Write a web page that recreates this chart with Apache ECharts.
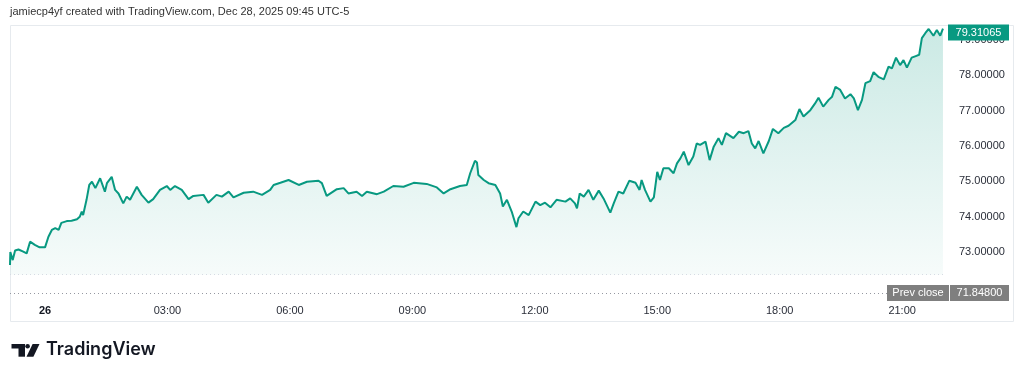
<!DOCTYPE html>
<html><head><meta charset="utf-8">
<script src="https://cdn.jsdelivr.net/npm/echarts@6/dist/echarts.min.js"></script>
<style>html,body{margin:0;padding:0;background:#fff;}#c{width:1024px;height:379px;}</style>
</head><body><div id="c"></div>
<script>
// minutes from 00:00 Dec 26 (UTC-5)
const minutes = [-51.5,-51,-49,-47.5,-44,-39,-32,-27,-22,-15,-8,0,5,10,15,20,24,32,39,47,51,54,56,61,65,69,74,81,88,91,98,103,108,115,120,125,135,142,152,159,169,179,184,191,201,211,218,233,240,252,260,270,277,292,306,319,331,336,346,358,373,385,402,407,414,429,439,446,458,466,473,488,498,512,527,542,561,576,586,596,610,620,625,632,635,637,645,652,662,669,673,679,686,693,696,703,711,721,728,735,743,752,765,772,779,782,786,792,799,806,814,821,831,836,843,850,859,868,874,877,882,890,895,900,904,909,917,924,929,934,939,946,953,958,963,971,977,983,990,995,1001,1012,1020,1027,1034,1039,1044,1049,1056,1064,1070,1078,1086,1093,1103,1109,1115,1125,1132,1137,1144,1152,1157,1162,1169,1176,1184,1189,1195,1201,1206,1213,1218,1225,1233,1240,1245,1251,1257,1262,1267,1274,1282,1285,1289,1294,1299,1306,1311,1316,1320];
const prices = [72.64,73.01,73.02,72.78,73.05,73.08,73.02,72.97,73.30,73.21,73.14,73.14,73.44,73.63,73.68,73.63,73.83,73.88,73.89,73.93,74.00,74.15,74.05,74.48,74.90,74.99,74.81,75.09,74.71,74.95,75.13,74.76,74.66,74.38,74.57,74.48,74.85,74.62,74.40,74.50,74.76,74.87,74.76,74.87,74.76,74.50,74.59,74.62,74.40,74.62,74.57,74.71,74.55,74.68,74.71,74.62,74.76,74.90,74.96,75.04,74.90,74.99,75.02,74.95,74.59,74.78,74.81,74.66,74.71,74.59,74.71,74.64,74.71,74.87,74.85,74.96,74.93,74.83,74.66,74.78,74.87,74.90,75.23,75.58,75.53,75.18,75.04,74.95,74.90,74.66,74.29,74.48,74.15,73.71,73.96,74.15,74.05,74.43,74.33,74.40,74.27,74.48,74.43,74.52,74.38,74.24,74.66,74.57,74.76,74.48,74.74,74.52,74.12,74.38,74.71,74.66,75.02,74.96,74.76,75.04,74.76,74.43,74.55,75.27,75.04,75.37,75.37,75.23,75.51,75.65,75.84,75.46,75.70,76.07,76.03,76.12,75.60,75.98,76.22,76.03,76.36,76.22,76.40,76.36,76.42,76.07,75.93,76.14,75.79,76.14,76.48,76.36,76.51,76.57,76.73,77.04,76.83,77.01,77.20,77.36,77.11,77.30,77.39,77.67,77.58,77.34,77.46,77.34,77.01,77.30,77.77,77.83,78.08,77.95,77.88,78.24,78.19,78.49,78.28,78.42,78.21,78.49,78.55,78.57,79.04,79.18,79.30,79.11,79.27,79.11,79.31065];
const xTickMinutes = [0,180,360,540,720,900,1080,1260];
const xTickLabels = ['26','03:00','06:00','09:00','12:00','15:00','18:00','21:00'];
const yTicks = [73,74,75,76,77,78,79];
const lastPrice = 79.31065;
const prevClose = 71.848;
const areaBase = 72.37;
const headerText = 'jamiecp4yf created with TradingView.com, Dec 28, 2025 09:45 UTC-5';
const brandText = 'TradingView';

const GREEN = '#089981';
const FONT = 'Liberation Sans';
const chart = echarts.init(document.getElementById('c'), null, {renderer: 'canvas'});
chart.setOption({
  animation: false,
  backgroundColor: '#ffffff',
  grid: {left: 10, right: 79, top: 25, bottom: 82, containLabel: false},
  xAxis: {
    type: 'value', min: -51.5, max: 1323,
    axisLine: {show: false}, axisTick: {show: false}, splitLine: {show: false},
    axisLabel: {
      customValues: xTickMinutes, margin: 8, color: '#2a2e39',
      fontFamily: FONT, fontSize: 11,
      formatter: v => {
        const i = xTickMinutes.indexOf(v);
        const s = i >= 0 ? xTickLabels[i] : '';
        return i === 0 ? '{b|' + s + '}' : s;
      },
      rich: {b: {fontWeight: 'bold', fontFamily: FONT, fontSize: 11, color: '#131722'}}
    }
  },
  yAxis: {
    type: 'value', position: 'right', min: 71.739, max: 79.412, scale: true,
    axisLine: {show: false}, axisTick: {show: false}, splitLine: {show: false},
    axisLabel: {
      customValues: yTicks, margin: 14, color: '#2a2e39',
      fontFamily: FONT, fontSize: 11,
      formatter: v => v.toFixed(5)
    }
  },
  series: [{
    type: 'line',
    data: minutes.map((m, i) => [m, prices[i]]),
    showSymbol: false,
    lineStyle: {color: GREEN, width: 2},
    itemStyle: {color: GREEN},
    areaStyle: {
      origin: areaBase,
      color: new echarts.graphic.LinearGradient(0, 0, 0, 1, [
        {offset: 0, color: 'rgba(8,153,129,0.30)'},
        {offset: 1, color: 'rgba(8,153,129,0.05)'}
      ])
    },
    markLine: {
      silent: true, symbol: 'none', animation: false,
      data: [
        {yAxis: areaBase, lineStyle: {color: '#d6dbe3', type: [1, 3], width: 1},
         label: {show: false}},
        {yAxis: prevClose, lineStyle: {color: '#9598a1', type: [1, 3], width: 1},
         label: {
           show: true, position: 'end', distance: 3, offset: [-61, 0],
           formatter: '{a|Prev close}{g|}{b|' + prevClose.toFixed(5) + '}',
           rich: {
             a: {backgroundColor: '#7f7f7f', color: '#fff', fontFamily: FONT, fontSize: 11,
                 width: 56, height: 14, align: 'center', padding: [1, 3], lineHeight: 14},
             g: {width: 1, height: 14},
             b: {backgroundColor: '#7f7f7f', color: '#fff', fontFamily: FONT, fontSize: 11,
                 width: 53, height: 14, align: 'center', padding: [1, 3], lineHeight: 14}
           }
         }},
        {yAxis: lastPrice, lineStyle: {color: 'rgba(0,0,0,0)', width: 1},
         label: {
           show: true, position: 'end', distance: 3, offset: [0, 4],
           formatter: '{p|' + lastPrice.toFixed(5) + '}',
           rich: {
             p: {backgroundColor: GREEN, color: '#fff', fontFamily: FONT, fontSize: 11,
                 width: 51, height: 14, lineHeight: 14, align: 'center', padding: [1, 5]}
           }
         }}
      ]
    }
  }],
  graphic: [
    {type: 'rect', silent: true, z: -1,
     shape: {x: 10.5, y: 25.5, width: 1003, height: 296},
     style: {fill: null, stroke: '#e6eaee', lineWidth: 1}},
    {type: 'text', left: 10, top: 6,
     style: {text: headerText, fill: '#333', font: '11px "Liberation Sans"'}},
    {type: 'rect', shape: {x: 11.5, y: 344, width: 13.5, height: 4.5}, style: {fill: '#131722'}},
    {type: 'rect', shape: {x: 18.5, y: 344, width: 6.5, height: 12.7}, style: {fill: '#131722'}},
    {type: 'circle', shape: {cx: 27.6, cy: 346.2, r: 2.3}, style: {fill: '#131722'}},
    {type: 'polygon', shape: {points: [[32.6, 344], [39.5, 344], [33.4, 356.7], [26.5, 356.7]]}, style: {fill: '#131722'}},
    {type: 'text', left: 46, top: 341,
     style: {text: brandText, fill: '#131722', font: '600 18px Inter'}}
  ]
});
</script></body></html>
